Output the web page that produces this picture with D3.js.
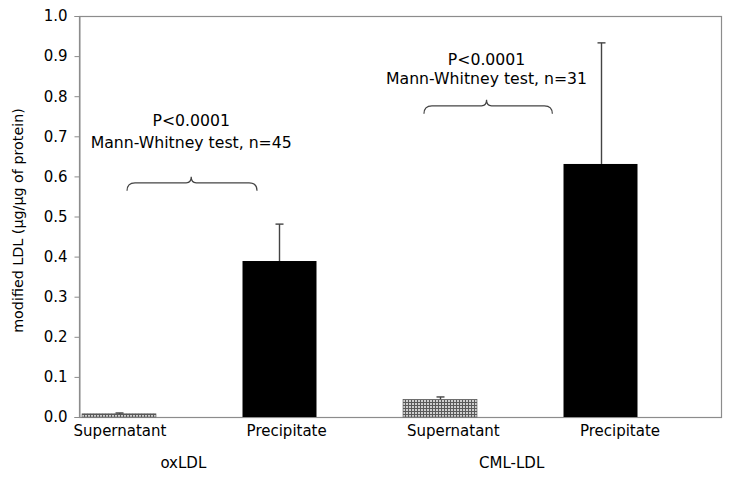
<!DOCTYPE html>
<html>
<head>
<meta charset="utf-8">
<script src="https://cdn.jsdelivr.net/npm/d3@7/dist/d3.min.js"></script>
<style>
  html, body { margin: 0; padding: 0; background: #fff; }
  svg { display: block; font-family: "DejaVu Sans", Verdana, sans-serif; }
</style>
</head>
<body>
<svg id="chart" width="729" height="479"></svg>
<script>
// ---- data ----
const categories = ["oxSup", "oxPre", "cmlSup", "cmlPre"];
const barLabels = ["Supernatant", "Precipitate", "Supernatant", "Precipitate"];
const values = [0.008, 0.389, 0.044, 0.631];
const errorTops = [0.010, 0.481, 0.050, 0.933];
const barKinds = ["pattern", "solid", "pattern", "solid"];
const groupLabels = ["oxLDL", "CML-LDL"];
const groupPos = [0.38, 2.35];           // in category-index units
const yTicks = [0, 0.1, 0.2, 0.3, 0.4, 0.5, 0.6, 0.7, 0.8, 0.9, 1.0];
const pLabels = ["P<0.0001", "P<0.0001"];
const testLabels = ["Mann-Whitney test, n=45", "Mann-Whitney test, n=31"];
const annoX = [0.45, 2.29];              // text centre, index units
const braceFrom = [0.05, 1.90];
const braceTo = [0.86, 2.70];
const braceY = [0.584, 0.776];           // brace line level (value units)
const pTextY = [0.738, 0.890];
const testTextY = [0.683, 0.843];
const yTitle = "modified LDL (µg/µg of protein)";

// ---- layout ----
const svg = d3.select("#chart");
const mLeft = 79, mRight = 721, mTop = 16, mBottom = 417;

const y = d3.scaleLinear().domain([0, 1]).range([mBottom, mTop]);
const x = d3.scaleBand().domain(categories).range([82, 637.5]).paddingInner(0.539).paddingOuter(0);
const labelX = d3.scalePoint().domain(categories).range([120, 620]);
const idx = d3.scaleLinear().domain([0, 3]).range([x(categories[0]) + x.bandwidth() / 2, x(categories[3]) + x.bandwidth() / 2]);
const idxLab = d3.scaleLinear().domain([0, 3]).range([120, 620]);

// pattern
const defs = svg.append("defs");
const pat = defs.append("pattern").attr("id", "dots").attr("patternUnits", "userSpaceOnUse")
  .attr("width", 3).attr("height", 3);
pat.append("rect").attr("width", 3).attr("height", 3).attr("fill", "#cfcfcf");
pat.append("rect").attr("width", 3).attr("height", 1).attr("fill", "#5a5a5a");
pat.append("rect").attr("width", 1).attr("height", 3).attr("fill", "#5a5a5a");

// frame
svg.append("rect").attr("x", mLeft + 0.5).attr("y", mTop + 0.5)
  .attr("width", mRight - mLeft).attr("height", mBottom - mTop)
  .attr("fill", "none").attr("stroke", "#8c8c8c").attr("stroke-width", 1.2);

// y axis
const yAxis = d3.axisLeft(y).tickValues(yTicks).tickFormat(d3.format(".1f")).tickSize(5).tickPadding(7);
const gy = svg.append("g").attr("transform", `translate(${mLeft + 0.5},0)`).call(yAxis);
gy.select(".domain").attr("stroke", "#8c8c8c");
gy.selectAll(".tick line").attr("stroke", "#8c8c8c");
gy.selectAll(".tick text").attr("font-size", 15).attr("fill", "#000")
  .attr("font-family", "DejaVu Sans, Verdana, sans-serif");

// y title
svg.append("text").attr("transform", `translate(23,${(mTop + mBottom) / 2 + 4}) rotate(-90)`)
  .attr("text-anchor", "middle").attr("font-size", 14.3).text(yTitle);

// bars
svg.append("g").selectAll("rect").data(categories).join("rect")
  .attr("x", d => x(d))
  .attr("y", (d, i) => y(values[i]))
  .attr("width", x.bandwidth())
  .attr("height", (d, i) => y(0) - y(values[i]))
  .attr("fill", (d, i) => barKinds[i] === "solid" ? "#000" : "url(#dots)")
  .attr("stroke", (d, i) => barKinds[i] === "solid" ? "none" : "#555")
  .attr("stroke-width", 0.6);

// error bars
const eg = svg.append("g").attr("stroke", "#444").attr("stroke-width", 1.4);
categories.forEach((c, i) => {
  const cx = Math.round(x(c) + x.bandwidth() / 2) + 0.5;
  eg.append("line").attr("x1", cx).attr("x2", cx).attr("y1", y(values[i])).attr("y2", y(errorTops[i]));
  eg.append("line").attr("x1", cx - 4).attr("x2", cx + 4).attr("y1", y(errorTops[i])).attr("y2", y(errorTops[i]));
});

// x bar labels
svg.append("g").selectAll("text").data(categories).join("text")
  .attr("x", d => labelX(d)).attr("y", 436)
  .attr("text-anchor", "middle").attr("font-size", 15)
  .text((d, i) => barLabels[i]);

// group labels
svg.append("g").selectAll("text").data(groupLabels).join("text")
  .attr("x", (d, i) => idxLab(groupPos[i])).attr("y", 468)
  .attr("text-anchor", "middle").attr("font-size", 15).text(d => d);

// annotations
groupLabels.forEach((g, i) => {
  const cx = idx(annoX[i]);
  svg.append("text").attr("x", cx).attr("y", y(pTextY[i]) + 5).attr("text-anchor", "middle")
    .attr("font-size", 15.7).text(pLabels[i]);
  svg.append("text").attr("x", cx).attr("y", y(testTextY[i]) + 5).attr("text-anchor", "middle")
    .attr("font-size", 15.7).text(testLabels[i]);
  const x0 = idx(braceFrom[i]), x1 = idx(braceTo[i]), xm = cx;
  const yl = y(braceY[i]);
  const path = d3.path();
  path.moveTo(x0, yl + 8);
  path.quadraticCurveTo(x0, yl, x0 + 8, yl);
  path.lineTo(xm - 5, yl);
  path.quadraticCurveTo(xm, yl, xm, yl - 6);
  path.quadraticCurveTo(xm, yl, xm + 5, yl);
  path.lineTo(x1 - 8, yl);
  path.quadraticCurveTo(x1, yl, x1, yl + 8);
  svg.append("path").attr("d", path.toString()).attr("fill", "none")
    .attr("stroke", "#444").attr("stroke-width", 1.2);
});
</script>
</body>
</html>
